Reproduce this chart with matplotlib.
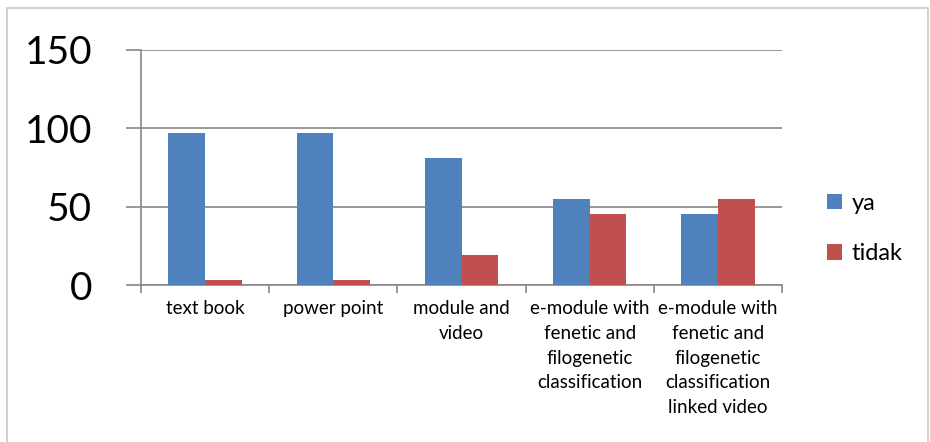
import matplotlib
matplotlib.use("Agg")
import matplotlib.pyplot as plt
import numpy as np
from matplotlib.patches import Rectangle

categories = ["text book", "power point", "module and\nvideo",
              "e-module with\nfenetic and\nfilogenetic\nclassification",
              "e-module with\nfenetic and\nfilogenetic\nclassification\nlinked video"]
ya = [97, 97, 81, 55, 45]
tidak = [3, 3, 19, 45, 55]
yticks = [0, 50, 100, 150]

plt.rcParams['font.family'] = ['Lato', 'DejaVu Sans']
gray = '#888888'

fig = plt.figure(figsize=(9.3, 4.42), dpi=100)
ax = fig.add_axes([0.1516, 0.3552, 0.6893, 0.5317])

x = np.arange(len(categories))
w = 0.286
ax.bar(x - w / 2, ya, w, color='#4f81bd', label='ya', zorder=3)
ax.bar(x + w / 2, tidak, w, color='#c0504d', label='tidak', zorder=3)

ax.set_xlim(-0.5, len(categories) - 0.5)
ax.set_ylim(0, 150)
ax.set_yticks(yticks)
ax.set_yticklabels([str(v) for v in yticks], fontsize=28)
ax.yaxis.grid(True, color=gray, linewidth=1.2, zorder=0)
ax.tick_params(axis='y', length=11, width=1.2, color=gray, pad=24)

ax.set_xticks(x)
ax.set_xticklabels(categories, fontsize=13.5, linespacing=1.55, va='top')
ax.tick_params(axis='x', length=0, pad=11)
ax.set_xticks(np.arange(len(categories) + 1) - 0.5, minor=True)
ax.tick_params(axis='x', which='minor', length=6, width=1.2, color=gray)

for s in ['top', 'right']:
    ax.spines[s].set_visible(False)
for s in ['left', 'bottom']:
    ax.spines[s].set_color(gray)
    ax.spines[s].set_linewidth(1.2)

fig.legend(loc='upper left', bbox_to_anchor=(0.866, 0.612), frameon=False,
           fontsize=17, handlelength=0.65, handleheight=0.65, handletextpad=0.4,
           labelspacing=1.25)

fig.patches.append(Rectangle((0.0075, -0.05), 0.9905, 1.032, transform=fig.transFigure,
                             fill=False, edgecolor='#c8c8c8', linewidth=1.2))

fig.savefig('out.png', dpi=100)
